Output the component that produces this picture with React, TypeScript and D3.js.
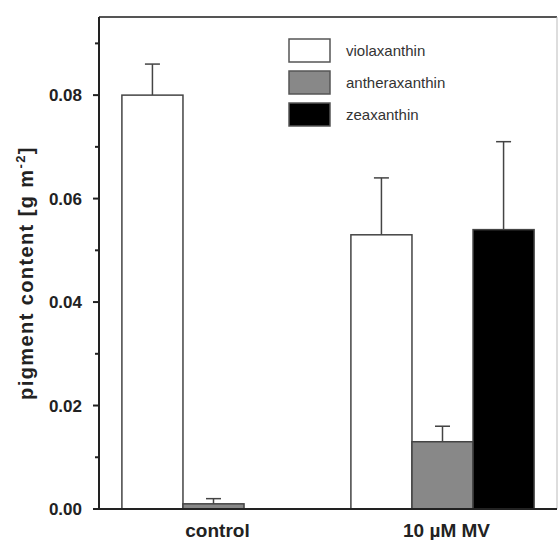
import React from "react";
import * as d3 from "d3";

const groups = ["control", "10 µM MV"];
const series = ["violaxanthin", "antheraxanthin", "zeaxanthin"];
const fills = ["#ffffff", "#888888", "#000000"];
const values = [
  [0.08, 0.001, 0],
  [0.053, 0.013, 0.054],
];
const errors = [
  [0.006, 0.001, 0],
  [0.011, 0.003, 0.017],
];
const yMajor = [0, 0.02, 0.04, 0.06, 0.08];
const yMinor = [0.01, 0.03, 0.05, 0.07, 0.09];

const W = 558;
const H = 540;
const left = 99;
const right = 557;
const top = 17;
const bottom = 509;

export default function App() {
  const y = d3.scaleLinear().domain([0, 0.0951]).range([bottom, top]);
  const x0 = d3.scaleBand().domain(groups).range([left, right]).paddingInner(0.2).paddingOuter(0.1);
  const x1 = d3.scaleBand().domain(series).range([0, x0.bandwidth()]).padding(0);
  const fmt = d3.format(".2f");

  return (
    <svg
      width={W}
      height={H}
      style={{ position: "absolute", left: 0, top: 0, background: "#fff" }}
      fontFamily="Liberation Sans, Arial, sans-serif"
    >
      {/* frame top and right */}
      <line x1={left} x2={right} y1={top} y2={top} stroke="#555" strokeWidth={2} />
      <line x1={right} x2={right} y1={top} y2={bottom} stroke="#bbb" strokeWidth={1} />

      {/* bars */}
      {groups.map((g, gi) =>
        series.map((s, si) => {
          const v = values[gi][si];
          if (v <= 0) return null;
          const bx = (x0(g) as number) + (x1(s) as number);
          const bw = x1.bandwidth();
          const cx = bx + bw / 2;
          const e = errors[gi][si];
          return (
            <g key={g + s}>
              <line x1={cx} x2={cx} y1={y(v)} y2={y(v + e)} stroke="#444" strokeWidth={1.5} />
              <line x1={cx - 7.5} x2={cx + 7.5} y1={y(v + e)} y2={y(v + e)} stroke="#444" strokeWidth={1.5} />
              <rect x={bx} y={y(v)} width={bw} height={y(0) - y(v)} fill={fills[si]} stroke="#444" strokeWidth={1.5} />
            </g>
          );
        })
      )}

      {/* axes */}
      <line x1={left} x2={left} y1={top} y2={bottom} stroke="#222" strokeWidth={2} />
      <line x1={left - 6} x2={right} y1={bottom} y2={bottom} stroke="#222" strokeWidth={2} />
      {yMajor.map((t) => (
        <g key={"M" + t}>
          <line x1={left - 6} x2={left} y1={y(t)} y2={y(t)} stroke="#222" strokeWidth={2} />
          <text x={left - 17} y={y(t)} dy="0.36em" textAnchor="end" fontSize={17} fontWeight="bold" fill="#222">
            {fmt(t)}
          </text>
        </g>
      ))}
      {yMinor.map((t) => (
        <line key={"m" + t} x1={left - 4} x2={left} y1={y(t)} y2={y(t)} stroke="#222" strokeWidth={2} />
      ))}

      {/* x labels */}
      {groups.map((g) => (
        <text
          key={g}
          x={(x0(g) as number) + x0.bandwidth() / 2 + 4}
          y={537}
          textAnchor="middle"
          fontSize={19}
          fontWeight="bold"
          fill="#222"
        >
          {g}
        </text>
      ))}

      {/* y label */}
      <text
        transform={`translate(33, 273) rotate(-90)`}
        textAnchor="middle"
        fontSize={20}
        fontWeight="bold"
        letterSpacing={1.4}
        fill="#222"
      >
        pigment content [g m
        <tspan dy={-8} fontSize={13}>-2</tspan>
        <tspan dy={8}>]</tspan>
      </text>

      {/* legend */}
      {series.map((s, i) => (
        <g key={"L" + s} transform={`translate(289, ${39 + i * 32})`}>
          <rect x={0} y={0} width={41} height={23} fill={fills[i]} stroke="#555" strokeWidth={1.5} />
          <text x={57} y={11.5} dy="0.36em" fontSize={15} fill="#333">
            {s}
          </text>
        </g>
      ))}
    </svg>
  );
}
